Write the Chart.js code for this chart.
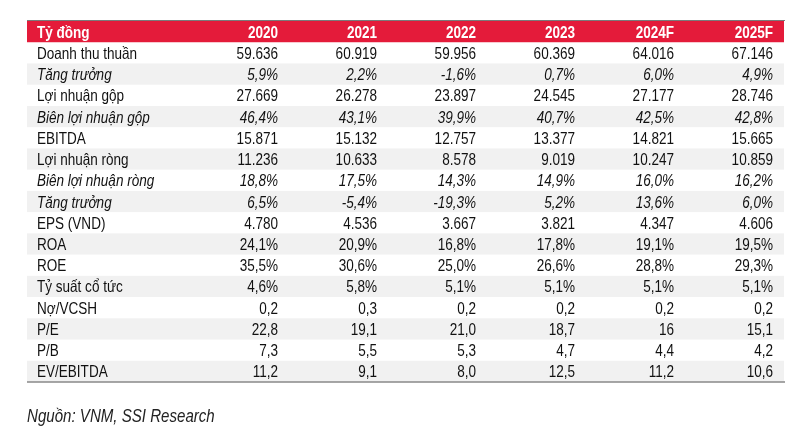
<!DOCTYPE html>
<html>
<head>
<meta charset="utf-8">
<script src="https://cdn.jsdelivr.net/npm/chart.js@4.4.1/dist/chart.umd.min.js"></script>
<style>
  body { margin: 0; background: #fff; }
  #wrap { width: 799px; height: 435px; }
</style>
</head>
<body>
<div id="wrap"><canvas id="tbl" width="799" height="435"></canvas></div>
<script>
// Column headers and row labels
const headerLabel = 'Tỷ đồng';
const years = ['2020', '2021', '2022', '2023', '2024F', '2025F'];
const rowLabels = [
  'Doanh thu thuần', 'Tăng trưởng', 'Lợi nhuận gộp', 'Biên lợi nhuận gộp', 'EBITDA',
  'Lợi nhuận ròng', 'Biên lợi nhuận ròng', 'Tăng trưởng', 'EPS (VND)', 'ROA', 'ROE',
  'Tỷ suất cổ tức', 'Nợ/VCSH', 'P/E', 'P/B', 'EV/EBITDA'
];
// rows printed in italic
const italicRows = [1, 3, 6, 7];

// Values as printed in the table
const revenue      = ['59.636', '60.919', '59.956', '60.369', '64.016', '67.146'];
const revenueGrowth = ['5,9%', '2,2%', '-1,6%', '0,7%', '6,0%', '4,9%'];
const grossProfit  = ['27.669', '26.278', '23.897', '24.545', '27.177', '28.746'];
const grossMargin  = ['46,4%', '43,1%', '39,9%', '40,7%', '42,5%', '42,8%'];
const ebitda       = ['15.871', '15.132', '12.757', '13.377', '14.821', '15.665'];
const netProfit    = ['11.236', '10.633', '8.578', '9.019', '10.247', '10.859'];
const netMargin    = ['18,8%', '17,5%', '14,3%', '14,9%', '16,0%', '16,2%'];
const profitGrowth = ['6,5%', '-5,4%', '-19,3%', '5,2%', '13,6%', '6,0%'];
const eps          = ['4.780', '4.536', '3.667', '3.821', '4.347', '4.606'];
const roa          = ['24,1%', '20,9%', '16,8%', '17,8%', '19,1%', '19,5%'];
const roe          = ['35,5%', '30,6%', '25,0%', '26,6%', '28,8%', '29,3%'];
const divYield     = ['4,6%', '5,8%', '5,1%', '5,1%', '5,1%', '5,1%'];
const debtEquity   = ['0,2', '0,3', '0,2', '0,2', '0,2', '0,2'];
const pe           = ['22,8', '19,1', '21,0', '18,7', '16', '15,1'];
const pb           = ['7,3', '5,5', '5,3', '4,7', '4,4', '4,2'];
const evEbitda     = ['11,2', '9,1', '8,0', '12,5', '11,2', '10,6'];

const rows = [revenue, revenueGrowth, grossProfit, grossMargin, ebitda, netProfit, netMargin,
  profitGrowth, eps, roa, roe, divYield, debtEquity, pe, pb, evEbitda];

const sourceText = 'Nguồn: VNM, SSI Research';

const FONT = '"Liberation Sans", Arial, sans-serif';
const NARROW = 0.82; // squeeze to look like Arial Narrow
const RED = '#e41b3a';
const STRIPE = '#f1f1f1';
const TABLE_LEFT = 27;
const TABLE_RIGHT = 784;

// draw text squeezed horizontally
function narrowText(ctx, text, x, y, align) {
  ctx.save();
  ctx.translate(x, y);
  ctx.scale(NARROW, 1);
  ctx.textAlign = align;
  ctx.fillText(text, 0, 0);
  ctx.restore();
}

// Draws the table cells using the chart's category scales
const tablePlugin = {
  id: 'tablePlugin',
  afterDraw(chart) {
    const ctx = chart.ctx;
    const xs = chart.scales.x;
    const ys = chart.scales.y;
    const rowH = ys.getPixelForValue(1) - ys.getPixelForValue(0);
    const labelX = TABLE_LEFT + 10;

    ctx.save();
    // backgrounds
    for (let i = 0; i <= rows.length; i++) {
      const top = ys.getPixelForValue(i) - rowH / 2;
      if (i === 0) {
        ctx.fillStyle = RED;
        ctx.fillRect(TABLE_LEFT, top, TABLE_RIGHT - TABLE_LEFT, rowH);
      } else if ((i - 1) % 2 === 1) {
        ctx.fillStyle = STRIPE;
        ctx.fillRect(TABLE_LEFT, top, TABLE_RIGHT - TABLE_LEFT, rowH);
      }
    }
    // top and bottom rules
    ctx.strokeStyle = '#7a7a7a';
    ctx.lineWidth = 1;
    ctx.beginPath();
    const topY = ys.getPixelForValue(0) - rowH / 2;
    ctx.moveTo(TABLE_LEFT, topY - 0.5);
    ctx.lineTo(TABLE_RIGHT + 1, topY - 0.5);
    ctx.stroke();
    ctx.lineWidth = 1.5;
    ctx.strokeStyle = '#888';
    ctx.beginPath();
    const botY = ys.getPixelForValue(rows.length) + rowH / 2;
    ctx.moveTo(TABLE_LEFT, botY);
    ctx.lineTo(TABLE_RIGHT + 1, botY);
    ctx.stroke();

    // header text
    ctx.textBaseline = 'alphabetic';
    const off = 6;
    ctx.font = 'bold 16.5px ' + FONT;
    ctx.fillStyle = '#fff';
    const hy = ys.getPixelForValue(0) + off;
    narrowText(ctx, headerLabel, labelX, hy, 'left');
    years.forEach((yr, j) => narrowText(ctx, yr, xs.getPixelForValue(j), hy, 'right'));

    // body text
    ctx.fillStyle = '#111';
    rows.forEach((vals, r) => {
      const y = ys.getPixelForValue(r + 1) + off;
      const italic = italicRows.includes(r);
      ctx.font = (italic ? 'italic ' : '') + '16.5px ' + FONT;
      narrowText(ctx, rowLabels[r], labelX, y, 'left');
      vals.forEach((v, j) => narrowText(ctx, v, xs.getPixelForValue(j), y, 'right'));
    });

    // source note
    ctx.font = 'italic 18.4px ' + FONT;
    ctx.fillStyle = '#222';
    narrowText(ctx, sourceText, TABLE_LEFT, botY + 40, 'left');
    ctx.restore();
  }
};

new Chart(document.getElementById('tbl'), {
  type: 'bar',
  data: {
    labels: years,
    datasets: []
  },
  options: {
    responsive: false,
    animation: false,
    layout: {
      padding: { left: 278, right: 26, top: 21, bottom: 53 }
    },
    plugins: {
      legend: { display: false },
      tooltip: { enabled: false }
    },
    scales: {
      x: {
        type: 'category',
        labels: years,
        offset: false,
        display: false
      },
      y: {
        type: 'category',
        labels: [headerLabel].concat(rowLabels),
        offset: true,
        display: false
      }
    }
  },
  plugins: [tablePlugin]
});
</script>
</body>
</html>
